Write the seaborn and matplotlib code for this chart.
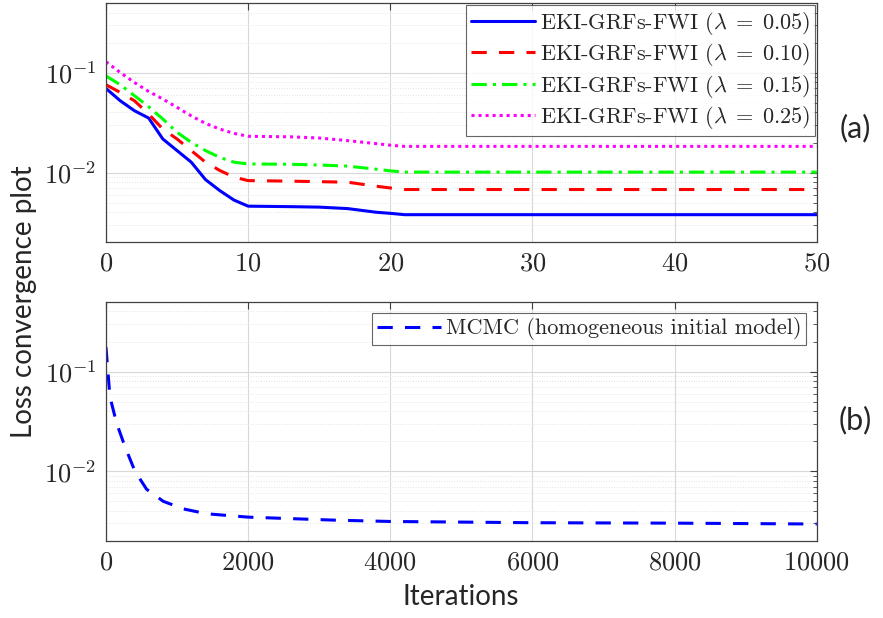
import numpy as np
import pandas as pd
import matplotlib
matplotlib.use('Agg')
import matplotlib.pyplot as plt
import matplotlib.ticker as mticker
import seaborn as sns

# EKI runs (top panel)
iters_eki = [0, 1, 2, 3, 4, 5, 6, 7, 8, 9, 10, 13, 15, 17, 19, 20, 21, 30, 40, 50]
loss_005 = [0.0697, 0.0525, 0.0417, 0.0352, 0.0217, 0.0166, 0.0127, 0.0085, 0.0066, 0.0053,
            0.0046, 0.00455, 0.0045, 0.00435, 0.0040, 0.0039, 0.00378, 0.00378, 0.00378, 0.00378]
loss_010 = [0.0759, 0.0636, 0.0525, 0.0386, 0.0273, 0.0217, 0.0166, 0.0127, 0.0105, 0.0090,
            0.0083, 0.0082, 0.0081, 0.0080, 0.0073, 0.0070, 0.00676, 0.00676, 0.00676, 0.00676]
loss_015 = [0.093, 0.076, 0.059, 0.0457, 0.0344, 0.0253, 0.0201, 0.0166, 0.0142, 0.0127,
            0.0122, 0.0121, 0.0119, 0.0116, 0.0108, 0.0104, 0.0101, 0.0101, 0.0101, 0.0101]
loss_025 = [0.129, 0.1008, 0.080, 0.065, 0.0546, 0.045, 0.037, 0.0311, 0.0273, 0.0247,
            0.0231, 0.0228, 0.0222, 0.0209, 0.0195, 0.0188, 0.0183, 0.0183, 0.0183, 0.0183]
lambdas = ['0.05', '0.10', '0.15', '0.25']

# MCMC run (bottom panel)
iters_mcmc = [0, 56, 150, 267, 408, 572, 806, 1087, 1415, 2000, 3195, 4000, 6000, 8000, 10000]
loss_mcmc = [0.176, 0.0558, 0.0303, 0.0177, 0.0100, 0.0066, 0.0050, 0.0042, 0.00375,
             0.00347, 0.00324, 0.00314, 0.00305, 0.00302, 0.00296]

sns.set_style('white')
plt.rcParams['mathtext.fontset'] = 'cm'
plt.rcParams['font.family'] = ['cmr10', 'DejaVu Serif']
plt.rcParams['axes.formatter.use_mathtext'] = True

df = pd.DataFrame({'iter': iters_eki * 4,
                   'loss': loss_005 + loss_010 + loss_015 + loss_025,
                   'lam': [l for l in lambdas for _ in iters_eki]})
df_mcmc = pd.DataFrame({'iter': iters_mcmc, 'loss': loss_mcmc})

fig = plt.figure(figsize=(8.83, 6.18), dpi=100)
ax1 = fig.add_axes([0.120, 0.608, 0.805, 0.387])
ax2 = fig.add_axes([0.120, 0.1246, 0.805, 0.387])

colors = ['#0000ff', '#ff0000', '#00ff00', '#ff00ff']
styles = ['-', (0, (5, 4)), (0, (5, 2, 1, 2)), (0, (1, 1.3))]
for lam, c, ls in zip(lambdas, colors, styles):
    sub = df[df['lam'] == lam]
    sns.lineplot(data=sub, x='iter', y='loss', ax=ax1, color=c, linewidth=2.2,
                 linestyle=ls, label=r'EKI-GRFs-FWI ($\lambda\;=\;%s$)' % lam)

sns.lineplot(data=df_mcmc, x='iter', y='loss', ax=ax2, color='#0000ff', linewidth=2.2,
             linestyle=(0, (5, 4)), label='MCMC (homogeneous initial model)')

for ax, xmax, xt in [(ax1, 50, [0, 10, 20, 30, 40, 50]),
                     (ax2, 10000, [0, 2000, 4000, 6000, 8000, 10000])]:
    ax.set_yscale('log')
    ax.set_ylim(0.002, 0.5)
    ax.set_xlim(0, xmax)
    ax.set_xticks(xt)
    ax.set_xticklabels(['$%d$' % v for v in xt])
    ax.set_yticks([0.01, 0.1])
    ax.set_yticklabels([r'$10^{-2}$', r'$10^{-1}$'])
    ax.yaxis.set_minor_locator(mticker.LogLocator(base=10, subs=np.arange(2, 10)))
    ax.yaxis.set_minor_formatter(mticker.NullFormatter())
    ax.tick_params(which='both', direction='in', top=True, right=True, labelsize=19,
                   color='#404040', pad=7)
    ax.tick_params(which='major', length=5)
    ax.tick_params(which='minor', length=3)
    ax.grid(True, which='major', color='#d8d8d8', linewidth=0.8)
    ax.grid(True, which='minor', axis='y', color='#e4e4e4', linewidth=0.7, linestyle=':')
    for s in ax.spines.values():
        s.set_color('#404040')
        s.set_linewidth(0.9)
    ax.set_xlabel('')
    ax.set_ylabel('')

leg1 = ax1.legend(loc='upper right', fontsize=16, frameon=True, fancybox=False,
                  borderaxespad=0.1, handlelength=2.9, handletextpad=0.2,
                  labelspacing=0.2, borderpad=0.2)
leg1.get_frame().set_edgecolor('#404040')
leg1.get_frame().set_linewidth(0.8)
leg2 = ax2.legend(loc='upper right', fontsize=16, frameon=True, fancybox=False,
                  borderaxespad=0.5, handlelength=2.9, handletextpad=0.2, borderpad=0.2)
leg2.get_frame().set_edgecolor('#404040')
leg2.get_frame().set_linewidth(0.8)

fig.text(24 / 883, 1 - 302 / 618, 'Loss convergence plot', rotation=90, ha='center',
         va='center', fontsize=20, family='Lato')
fig.text(461 / 883, 1 - 597 / 618, 'Iterations', ha='center', va='center',
         fontsize=20, family='Lato')
fig.text(855 / 883, 1 - 128 / 618, '(a)', ha='center', va='center', fontsize=22, family='Lato')
fig.text(855 / 883, 1 - 420 / 618, '(b)', ha='center', va='center', fontsize=22, family='Lato')

fig.savefig('out.png', dpi=100)
